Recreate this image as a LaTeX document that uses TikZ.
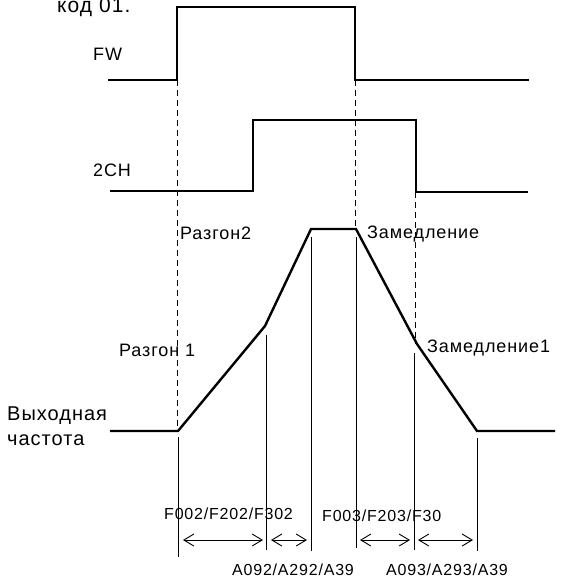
\documentclass[tikz,border=0pt]{standalone}
\usepackage{fontspec}
\setmainfont{Liberation Sans}[LetterSpace=5]
\usetikzlibrary{arrows.meta}

\begin{document}
\begin{tikzpicture}[x=1pt,y=-1pt,
    sig/.style={line width=2.4pt,line join=miter},
    guide/.style={line width=1pt,dash pattern=on 6pt off 4pt},
    vline/.style={line width=1pt},
    span/.style={{Straight Barb[length=10pt,width=12pt]}-{Straight Barb[length=10pt,width=12pt]},line width=0.9pt},
    lbl/.style={anchor=base west,inner sep=0pt,font=\fontsize{18}{20}\selectfont},
    code/.style={anchor=base west,inner sep=0pt,font=\fontsize{16}{18}\selectfont}]
  \useasboundingbox (0,0) rectangle (563,578);

  \node[lbl,font=\fontsize{21}{24}\selectfont] (title) at (57,12.5) {код 01.};
  \node[lbl] (fwlbl) at (93,60) {FW};
  \node[lbl] (chlbl) at (93,176) {2CH};
  \node[lbl] (acc2) at (180,239) {Разгон2};
  \node[lbl] (dec) at (367,238) {Замедление};
  \node[lbl] (acc1) at (119,356) {Разгон 1};
  \node[lbl] (dec1) at (427,352) {Замедление1};
  \node[lbl,font=\fontsize{20}{24}\selectfont] (outa) at (7,420) {Выходная};
  \node[lbl,font=\fontsize{20}{24}\selectfont] (outb) at (7,445) {частота};
  \node[code] (facc) at (164,519) {F002/F202/F302};
  \node[code] (fdec) at (322,521) {F003/F203/F30};
  \node[code] (aacc) at (232,575) {A092/A292/A39};
  \node[code] (adec) at (386,575) {A093/A293/A39};

  \coordinate (fwup) at (177,80);
  \coordinate (fwdn) at (355,80);
  \coordinate (chdn) at (415,192);
  \coordinate (o1) at (178,431);
  \coordinate (o2) at (265,326);
  \coordinate (o3) at (311,229);
  \coordinate (o4) at (356,229);
  \coordinate (o5) at (417,344);
  \coordinate (o6) at (477,431);

  \draw[sig] (108,80) -- (fwup) -- (177,7) -- (355,7) -- (fwdn) -- (529,80);
  \draw[sig] (110,191) -- (253,191) -- (253,120) -- (416,120) -- (416,192) -- (528,192);
  \draw[sig] (110,431) -- (o1) -- (o2) -- (o3) -- (o4) -- (o5) -- (o6) -- (555,431);

  \draw[guide] (fwup) -- (177,430);
  \draw[guide] (fwdn) -- (355,229);
  \draw[guide] (chdn) -- (415,344);

  \draw[vline] (178,437) -- (178,557);
  \draw[vline] (266,335) -- (266,550);
  \draw[vline] (311,237) -- (311,551);
  \draw[vline] (356,237) -- (356,548);
  \draw[vline] (414,353) -- (414,550);
  \draw[vline] (477,438) -- (477,551);

  \coordinate (s1) at (183,540);
  \coordinate (s2) at (263,540);
  \coordinate (s3) at (271,540);
  \coordinate (s4) at (307,540);
  \coordinate (s5) at (360,540);
  \coordinate (s6) at (410,540);
  \coordinate (s7) at (418,540);
  \coordinate (s8) at (473,540);
  \draw[span] (s1) -- (s2);
  \draw[span] (s3) -- (s4);
  \draw[span] (s5) -- (s6);
  \draw[span] (s7) -- (s8);
\end{tikzpicture}
\end{document}
